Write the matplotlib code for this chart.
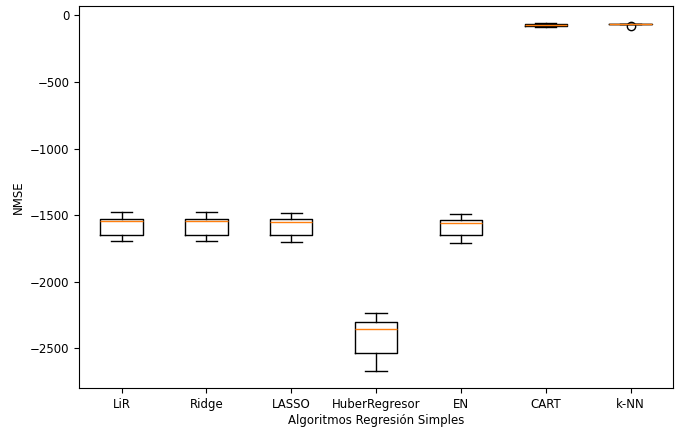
import matplotlib
matplotlib.use("Agg")
import matplotlib.pyplot as plt

labels = ["LiR", "Ridge", "LASSO", "HuberRegresor", "EN", "CART", "k-NN"]
whisker_low = [-1693, -1693, -1703, -2668, -1708, -90, -65]
q1 = [-1645, -1645, -1648, -2537, -1648, -82, -65]
median = [-1545, -1545, -1548, -2353, -1560, -75, -65]
q3 = [-1525, -1525, -1525, -2302, -1533, -68, -65]
whisker_high = [-1475, -1475, -1483, -2235, -1493, -60, -65]
fliers = [[], [], [], [], [], [], [-80]]

plt.rcParams["font.size"] = 8.5

stats = []
for i, lab in enumerate(labels):
    stats.append(dict(label=lab, whislo=whisker_low[i], q1=q1[i], med=median[i],
                      q3=q3[i], whishi=whisker_high[i], fliers=fliers[i]))

fig = plt.figure(figsize=(6.77, 4.28), dpi=100)
ax = fig.add_axes([0.117, 0.093, 0.877, 0.893])
ax.bxp(stats, showfliers=True)
ax.set_ylabel("NMSE")
ax.set_xlabel("Algoritmos Regresión Simples", labelpad=2)
fig.savefig("out.png", dpi=100)
